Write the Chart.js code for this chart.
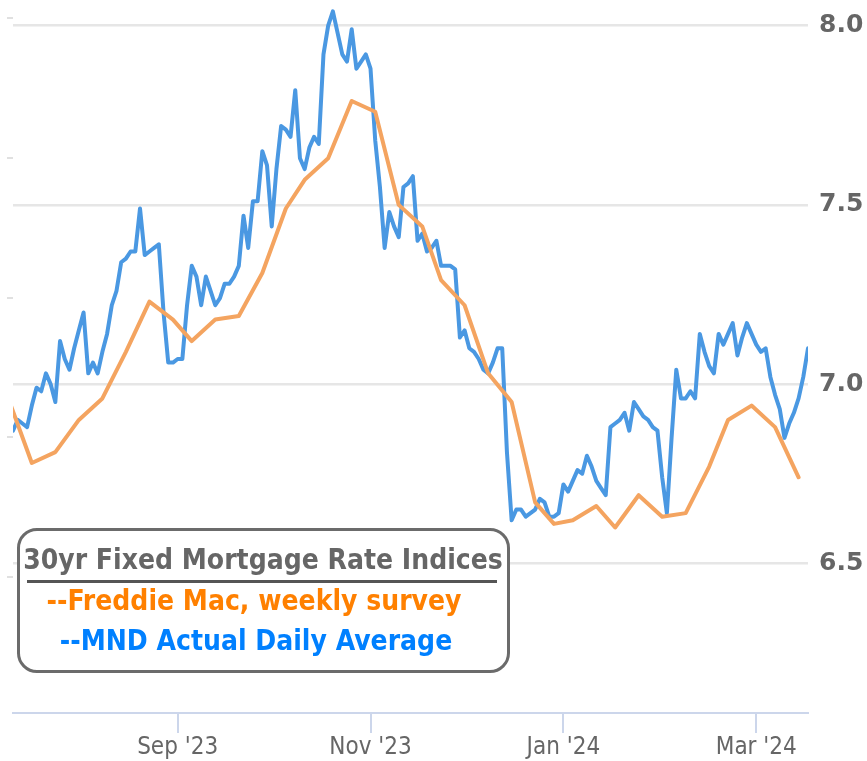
<!DOCTYPE html>
<html><head><meta charset="utf-8">
<script src="https://cdn.jsdelivr.net/npm/chart.js@4"></script>
<style>
html,body{margin:0;padding:0;background:#fff;}
#wrap{position:relative;width:867px;height:761px;overflow:hidden;background:#fff;}
#c{position:absolute;left:0;top:0;}
.box{position:absolute;left:17px;top:528px;width:493px;height:145px;box-sizing:border-box;border:3px solid #6b6b6b;border-radius:20px;background:#fff;}
.ln{position:absolute;left:0;white-space:nowrap;text-align:center;font-family:'DejaVu Sans Condensed','DejaVu Sans',sans-serif;font-stretch:condensed;font-weight:bold;font-size:28px;line-height:28px;}
.rule{position:absolute;left:27px;top:580px;width:470px;height:3px;background:#555;}
</style></head>
<body>
<div id="wrap">
<canvas id="c" width="867" height="761"></canvas>
<div class="box"></div>
<div class="ln" style="top:546px;width:526px;color:#666;">30yr Fixed Mortgage Rate Indices</div>
<div class="rule"></div>
<div class="ln" style="top:587px;width:508px;color:#ff8000;">--Freddie Mac, weekly survey</div>
<div class="ln" style="top:627px;width:512px;color:#0080ff;">--MND Actual Daily Average</div>
</div>
<script>
// Business days shown on the (ordinal) time axis
const dates = [
'2023-07-13','2023-07-14','2023-07-17','2023-07-18','2023-07-19','2023-07-20','2023-07-21','2023-07-24','2023-07-25','2023-07-26','2023-07-27','2023-07-28','2023-07-31',
'2023-08-01','2023-08-02','2023-08-03','2023-08-04','2023-08-07','2023-08-08','2023-08-09','2023-08-10','2023-08-11','2023-08-14','2023-08-15','2023-08-16','2023-08-17','2023-08-18','2023-08-21','2023-08-22','2023-08-23','2023-08-24','2023-08-25','2023-08-28','2023-08-29','2023-08-30','2023-08-31',
'2023-09-01','2023-09-05','2023-09-06','2023-09-07','2023-09-08','2023-09-11','2023-09-12','2023-09-13','2023-09-14','2023-09-15','2023-09-18','2023-09-19','2023-09-20','2023-09-21','2023-09-22','2023-09-25','2023-09-26','2023-09-27','2023-09-28','2023-09-29',
'2023-10-02','2023-10-03','2023-10-04','2023-10-05','2023-10-06','2023-10-10','2023-10-11','2023-10-12','2023-10-13','2023-10-16','2023-10-17','2023-10-18','2023-10-19','2023-10-20','2023-10-23','2023-10-24','2023-10-25','2023-10-26','2023-10-27','2023-10-30','2023-10-31',
'2023-11-01','2023-11-02','2023-11-03','2023-11-06','2023-11-07','2023-11-08','2023-11-09','2023-11-10','2023-11-13','2023-11-14','2023-11-15','2023-11-16','2023-11-17','2023-11-20','2023-11-21','2023-11-22','2023-11-24','2023-11-27','2023-11-28','2023-11-29','2023-11-30',
'2023-12-01','2023-12-04','2023-12-05','2023-12-06','2023-12-07','2023-12-08','2023-12-11','2023-12-12','2023-12-13','2023-12-14','2023-12-15','2023-12-18','2023-12-19','2023-12-20','2023-12-21','2023-12-22','2023-12-26','2023-12-27','2023-12-28','2023-12-29',
'2024-01-02','2024-01-03','2024-01-04','2024-01-05','2024-01-08','2024-01-09','2024-01-10','2024-01-11','2024-01-12','2024-01-16','2024-01-17','2024-01-18','2024-01-19','2024-01-22','2024-01-23','2024-01-24','2024-01-25','2024-01-26','2024-01-29','2024-01-30','2024-01-31',
'2024-02-01','2024-02-02','2024-02-05','2024-02-06','2024-02-07','2024-02-08','2024-02-09','2024-02-12','2024-02-13','2024-02-14','2024-02-15','2024-02-16','2024-02-20','2024-02-21','2024-02-22','2024-02-23','2024-02-26','2024-02-27','2024-02-28','2024-02-29',
'2024-03-01','2024-03-04','2024-03-05','2024-03-06','2024-03-07','2024-03-08','2024-03-11','2024-03-12','2024-03-13','2024-03-14','2024-03-15','2024-03-18'
];

// MND Actual Daily Average (one value per business day above)
const mndDaily = [
null,6.87,6.90,6.89,6.88,6.94,6.99,6.98,7.03,7.00,6.95,7.12,7.07,
7.04,7.10,7.15,7.20,7.03,7.06,7.03,7.09,7.14,7.22,7.26,7.34,7.35,7.37,7.37,7.49,7.36,7.37,7.38,7.39,7.20,7.06,7.06,
7.07,7.07,7.22,7.33,7.30,7.22,7.30,7.26,7.22,7.24,7.28,7.28,7.30,7.33,7.47,7.38,7.51,7.51,7.65,7.61,
7.44,7.60,7.72,7.71,7.69,7.82,7.63,7.60,7.66,7.69,7.67,7.92,8.00,8.04,7.98,7.92,7.90,7.99,7.88,7.90,7.92,
7.88,7.68,7.55,7.38,7.48,7.44,7.41,7.55,7.56,7.58,7.40,7.42,7.37,7.38,7.40,7.33,7.33,7.33,7.32,7.13,7.15,
7.10,7.09,7.07,7.04,7.03,7.06,7.10,7.10,6.81,6.62,6.65,6.65,6.63,6.64,6.65,6.68,6.67,6.63,6.63,6.64,
6.72,6.70,6.73,6.76,6.75,6.80,6.77,6.73,6.71,6.69,6.88,6.89,6.90,6.92,6.87,6.95,6.93,6.91,6.90,6.88,6.87,
6.74,6.64,6.85,7.04,6.96,6.96,6.98,6.96,7.14,7.09,7.05,7.03,7.14,7.11,7.14,7.17,7.08,7.13,7.17,7.14,
7.11,7.09,7.10,7.02,6.97,6.93,6.85,6.89,6.92,6.96,7.02,7.10
];

// Freddie Mac weekly survey
const freddieDates = ['2023-07-13','2023-07-20','2023-07-27','2023-08-03','2023-08-10','2023-08-17','2023-08-24','2023-08-31',
'2023-09-07','2023-09-14','2023-09-21','2023-09-28','2023-10-05','2023-10-12','2023-10-19','2023-10-26','2023-11-02','2023-11-09',
'2023-11-16','2023-11-22','2023-11-30','2023-12-07','2023-12-14','2023-12-21','2023-12-28','2024-01-04','2024-01-11','2024-01-18',
'2024-01-25','2024-02-01','2024-02-08','2024-02-15','2024-02-22','2024-02-29','2024-03-07','2024-03-14'];
const freddieWeekly = [6.96,6.78,6.81,6.90,6.96,7.09,7.23,7.18,7.12,7.18,7.19,7.31,7.49,7.57,7.63,7.79,7.76,7.50,
7.44,7.29,7.22,7.03,6.95,6.67,6.61,6.62,6.66,6.60,6.69,6.63,6.64,6.77,6.90,6.94,6.88,6.74];

const xTickDates = ['2023-09-01','2023-11-01','2024-01-02','2024-03-01'];
const xTickLabels = ["Sep '23","Nov '23","Jan '24","Mar '24"];
const yTickValues = [6.5, 7.0, 7.5, 8.0];
const leftAxisTicks = [0, 1, 2, 3, 4];
const firstShownDate = '2023-07-14';

const idx = d => dates.indexOf(d);

new Chart(document.getElementById('c'), {
  type: 'line',
  data: {
    datasets: [
      {
        label: 'Freddie Mac, weekly survey',
        data: freddieDates.map((d, i) => ({x: idx(d), y: freddieWeekly[i]})),
        xAxisID: 'x',
        yAxisID: 'y',
        borderColor: '#f4a460',
        borderWidth: 4,
        pointRadius: 0,
        tension: 0,
        clip: 0
      },
      {
        label: 'MND Actual Daily Average',
        data: mndDaily.map((v, i) => ({x: i, y: v})),
        xAxisID: 'x',
        yAxisID: 'y',
        borderColor: '#4a98e2',
        borderWidth: 4,
        pointRadius: 0,
        tension: 0,
        clip: 0
      }
    ]
  },
  options: {
    responsive: false,
    animation: false,
    events: [],
    layout: {padding: {left: 0, top: 0, right: 0, bottom: 0}},
    plugins: {legend: {display: false}, tooltip: {enabled: false}},
    elements: {line: {borderJoinStyle: 'round', borderCapStyle: 'round'}},
    scales: {
      x: {
        type: 'linear',
        min: idx(firstShownDate),
        max: dates.length - 1,
        afterBuildTicks: s => { s.ticks = xTickDates.map(d => ({value: idx(d)})); },
        afterFit: s => { s.height = 48; s.paddingLeft = 0; s.paddingRight = 0; },
        ticks: {
          autoSkip: false, maxRotation: 0, minRotation: 0, padding: 0,
          color: '#666',
          font: {family: "'DejaVu Sans Condensed', 'DejaVu Sans', sans-serif", size: 24},
          callback: v => xTickLabels[xTickDates.indexOf(dates[v])]
        },
        grid: {drawOnChartArea: false, drawTicks: true, tickLength: 20, color: '#ccd6eb', lineWidth: 2},
        border: {display: true, color: '#ccd6eb', width: 2}
      },
      y: {
        type: 'linear',
        position: 'right',
        min: 6.0823,
        max: 8.0717,
        afterBuildTicks: s => { s.ticks = yTickValues.map(v => ({value: v})); },
        afterFit: s => { s.width = 59; s.paddingTop = 0; s.paddingBottom = 0; },
        ticks: {
          padding: 11,
          color: '#666',
          font: {family: "'DejaVu Sans', sans-serif", size: 25, weight: 'bold'},
          callback: v => v.toFixed(1)
        },
        grid: {color: '#e6e6e6', lineWidth: 2.5, drawTicks: false},
        border: {display: false}
      },
      yLeft: {
        type: 'linear',
        position: 'left',
        min: -0.973,
        max: 4.129,
        afterBuildTicks: s => { s.ticks = leftAxisTicks.map(v => ({value: v})); },
        afterFit: s => { s.width = 13; s.paddingTop = 0; s.paddingBottom = 0; },
        ticks: {display: false},
        grid: {drawOnChartArea: false, drawTicks: true, tickLength: 6, color: '#e0e0e0', lineWidth: 2},
        border: {display: false}
      }
    }
  }
});
</script>
</body></html>
